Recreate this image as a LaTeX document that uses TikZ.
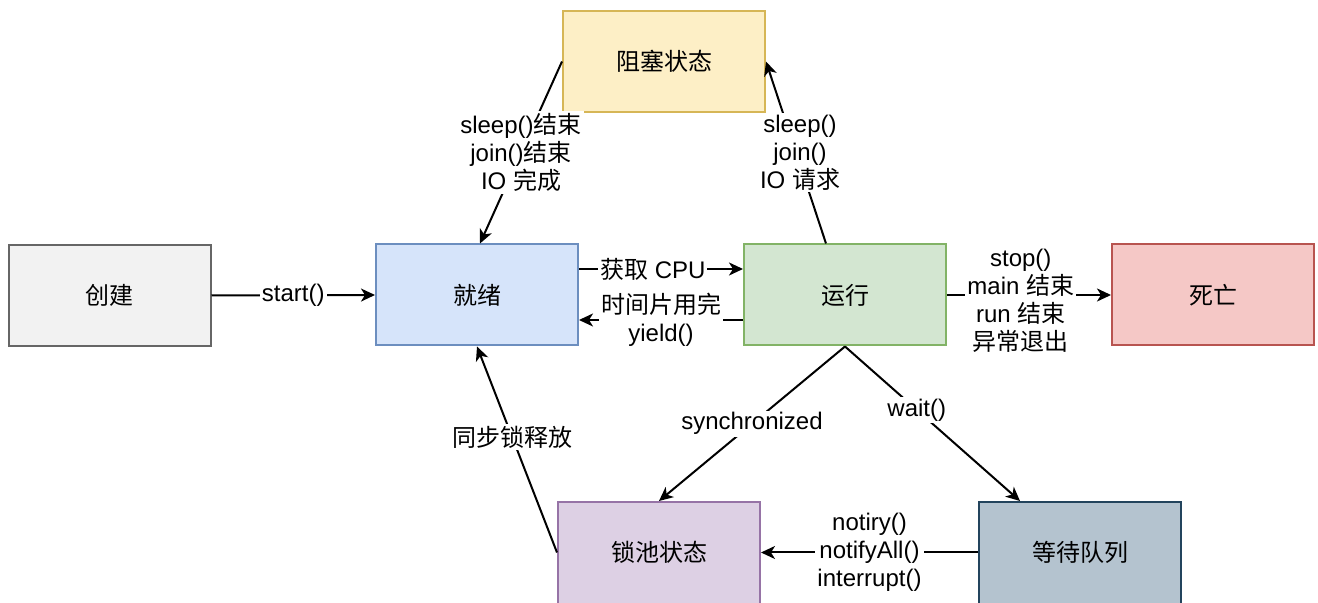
\documentclass[tikz,border=0pt]{standalone}
\usepackage{fontspec}
\setmainfont{Liberation Sans}
\newfontfamily\cjk{Noto Sans CJK SC}
\usetikzlibrary{arrows.meta}

\definecolor{grayF}{HTML}{F2F2F2}\definecolor{grayD}{HTML}{666666}
\definecolor{blueF}{HTML}{D6E4FA}\definecolor{blueD}{HTML}{6C8EBF}
\definecolor{yelF}{HTML}{FDEFC6}\definecolor{yelD}{HTML}{D6B656}
\definecolor{grnF}{HTML}{D3E6D1}\definecolor{grnD}{HTML}{82B366}
\definecolor{redF}{HTML}{F5C8C6}\definecolor{redD}{HTML}{B85450}
\definecolor{purF}{HTML}{DDD0E4}\definecolor{purD}{HTML}{9673A6}
\definecolor{slaF}{HTML}{B4C3CF}\definecolor{slaD}{HTML}{23445D}

\newcommand{\liftlbl}[1]{\raisebox{1.75pt}[\height][\depth]{#1}}

\tikzset{
  state/.style={draw, line width=1pt, minimum width=101pt, minimum height=50.5pt,
    inner sep=0pt, font=\fontsize{12pt}{14pt}\selectfont\cjk},
  arr/.style={line width=1pt, -{Stealth[length=7pt,width=6.5pt,inset=2pt]}},
  lbl/.style={fill=white, inner sep=1pt, align=center,
    font=\fontsize{12pt}{14pt}\selectfont},
}

\begin{document}
\begin{tikzpicture}[x=0.5pt,y=-0.5pt]
\useasboundingbox (0,0) rectangle (1318,603);

% states
\node[state, fill=grayF, draw=grayD] (cj) at (109.5,295.5) {创建};
\node[state, fill=blueF, draw=blueD] (jx) at (477,295) {就绪};
\node[state, fill=grnF,  draw=grnD]  (yx) at (845,295) {运行};
\node[state, fill=redF,  draw=redD]  (sw) at (1213,295) {死亡};
\node[state, fill=yelF,  draw=yelD]  (zs) at (664,61.5) {阻塞状态};
% the lower row runs past the bottom edge
\node[state, fill=purF,  draw=purD, minimum height=54pt]  (sc) at (659,556) {\liftlbl{锁池状态}};
\node[state, fill=slaF,  draw=slaD, minimum height=54pt]  (dd) at (1080,556) {\liftlbl{等待队列}};

% transitions
\draw[arr] (cj.east) -- node[lbl] {start()} (jx.west);
\draw[arr] ([yshift=13pt]jx.east) -- node[lbl, pos=0.45] {{\cjk 获取} CPU} ([yshift=13pt]yx.west);
\draw[arr] ([yshift=-12.5pt]yx.west) -- node[lbl] {{\cjk 时间片用完}\\yield()} ([yshift=-12.5pt]jx.east);
\draw[arr] (zs.west) -- node[lbl] {sleep(){\cjk 结束}\\join(){\cjk 结束}\\IO {\cjk 完成}} ([xshift=1.5pt]jx.north);
\draw[arr] ([xshift=-9.5pt]yx.north) -- node[lbl, pos=0.5, xshift=2pt] {sleep()\\join()\\IO {\cjk 请求}} (zs.east);
\draw[arr] (yx.east) -- node[lbl, pos=0.45, yshift=-3pt] {stop()\\main {\cjk 结束}\\run {\cjk 结束}\\{\cjk 异常退出}} (sw.west);
\draw[arr] (yx.south) -- node[lbl] {synchronized} (sc.north);
\draw[arr] (yx.south) -- node[lbl, pos=0.41] {wait()} ([xshift=-30pt]dd.north);
\draw[arr] ([yshift=1.75pt]dd.west) -- node[lbl] {notiry()\\notifyAll()\\interrupt()} ([yshift=1.75pt]sc.east);
\draw[arr] ([yshift=1.75pt]sc.west) -- node[lbl, pos=0.56] {\cjk 同步锁释放} (jx.south);
\end{tikzpicture}
\end{document}
